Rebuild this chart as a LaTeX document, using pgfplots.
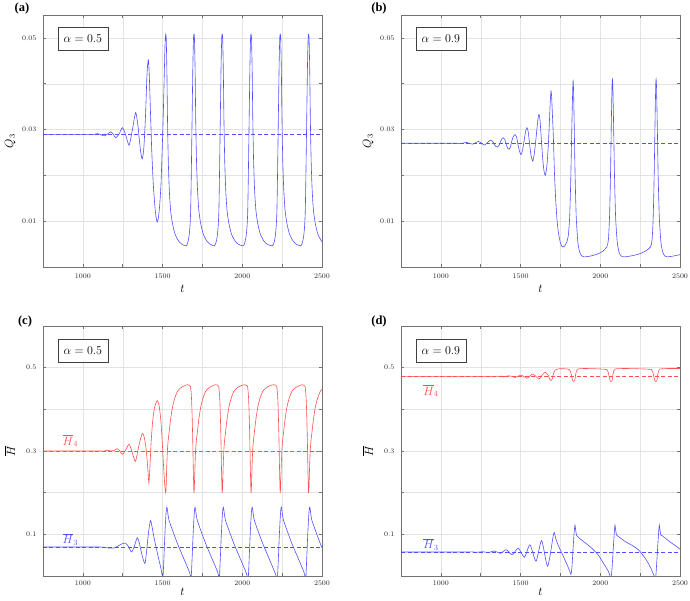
\documentclass[border=0pt]{standalone}
\usepackage[no-math]{fontspec}
\usepackage{pgfplots}
\pgfplotsset{compat=1.18}
\newfontfamily\lserif{Liberation Serif}
\definecolor{lblue}{RGB}{80,80,255}
\definecolor{lred}{RGB}{255,80,80}
\tikzset{
  abox/.style={draw=black!75, line width=0.6pt, fill=white, minimum width=50pt, minimum height=23pt, inner sep=0pt, font=\fontsize{12}{14}\selectfont},
  plab/.style={font=\lserif\bfseries\fontsize{12.5}{14}\selectfont},
}
\pgfplotsset{
  bdash/.style={draw=lblue, color=lblue, line width=0.6pt, dash pattern=on 4pt off 2.5pt, sharp plot},
  rdash/.style={draw=lred, color=lred, line width=0.6pt, dash pattern=on 4pt off 2.5pt, sharp plot},
  bline/.style={draw=lblue, color=lblue, line width=0.6pt, smooth, tension=0.4},
  rline/.style={draw=lred, color=lred, line width=0.6pt, smooth, tension=0.4},
  panel/.style={
    scale only axis, width=279pt, xmin=750, xmax=2500,
    scaled x ticks=false, scaled y ticks=false,
    xtick={1000,1500,2000,2500}, xticklabels={$1000$,$1500$,$2000$,$2500$},
    minor xtick={1250,1750,2250},
    grid=both,
    major grid style={draw=black!11, line width=0.4pt},
    minor grid style={draw=black!11, line width=0.4pt},
    tick align=inside, major tick length=3pt, minor tick length=3pt,
    axis line style={black!55, line width=0.5pt},
    tick style={black!55, line width=0.5pt},
    tick label style={font=\fontsize{7.5}{9}\selectfont, text=black!85},
    yticklabel style={xshift=-3pt},
    label style={font=\fontsize{12}{14}\selectfont},
    xlabel={$t$},
    ylabel style={at={(axis description cs:-0.118,0.5)}, anchor=center},
  },
  toppanel/.style={panel, height=252pt, ymin=0, ymax=0.055,
    ytick={0.01,0.03,0.05}, yticklabels={$0.01$,$0.03$,$0.05$},
    minor ytick={0.02,0.04},
    xticklabel style={yshift=-3pt},
    xlabel style={at={(axis description cs:0.5,-0.088)}, anchor=center},
    ylabel={$Q_3$}},
  botpanel/.style={panel, height=250pt, ymin=0, ymax=0.6,
    ytick={0.1,0.3,0.5}, yticklabels={$0.1$,$0.3$,$0.5$},
    minor ytick={0.2,0.4},
    xticklabel style={yshift=-1pt},
    xlabel style={at={(axis description cs:0.5,-0.062)}, anchor=center},
    ylabel={$\overline{H}$}},
}
\begin{document}
\begin{tikzpicture}
\path[use as bounding box] (0pt,0pt) rectangle (690pt,601pt);
\node[plab] at (22pt,592pt) {(a)};
\node[plab] at (379pt,592pt) {(b)};
\node[plab] at (25pt,279pt) {(c)};
\node[plab] at (379pt,279pt) {(d)};

% (a)
\begin{axis}[toppanel, at={(43pt,334pt)}, anchor=south west]
\addplot[bdash] coordinates {(750,0.0289) (2500,0.0289)};
\addplot[bline] coordinates {
(750,0.0289)(1000,0.0289)(1050,0.0289)(1070,0.02895)(1092,0.0291)(1112,0.0289)(1133,0.0286)(1154,0.0290)(1175,0.0295)(1190,0.0290)(1206,0.0282)(1227,0.0290)(1248,0.0304)(1269,0.0288)(1290,0.0266)(1310,0.0298)(1331,0.0337)(1345,0.0310)(1355,0.0275)(1364,0.0248)(1373,0.0236)(1383,0.0262)(1393,0.0330)(1401,0.0410)(1406,0.0440)(1411,0.0452)(1416,0.0425)(1424,0.0340)(1432,0.0255)(1441,0.0186)(1450,0.0140)(1458,0.0112)(1466,0.0098)(1474,0.0108)(1482,0.0135)(1490,0.0180)(1498,0.0260)(1505,0.0340)(1511,0.0425)(1516,0.0490)(1520,0.0508)
(1523,0.0498)(1527,0.0430)(1531,0.0320)(1536,0.0230)(1542,0.0170)(1550,0.0125)(1562,0.0095)(1578,0.0072)(1600,0.0057)(1620,0.0050)
(1647,0.0046)(1657,0.0052)(1665,0.0065)(1671,0.0085)(1676,0.0120)(1680,0.0200)(1685,0.0320)(1690,0.0440)(1694,0.0500)(1697,0.0508)
(1700,0.0498)(1704,0.0430)(1708,0.0320)(1713,0.0230)(1719,0.0170)(1727,0.0125)(1739,0.0095)(1755,0.0072)(1777,0.0057)(1797,0.0050)
(1824,0.0046)(1834,0.0052)(1842,0.0065)(1848,0.0085)(1853,0.0120)(1857,0.0200)(1862,0.0320)(1867,0.0440)(1871,0.0500)(1874,0.0508)
(1877,0.0498)(1881,0.0430)(1885,0.0320)(1890,0.0230)(1896,0.0170)(1904,0.0125)(1916,0.0095)(1932,0.0072)(1954,0.0057)(1974,0.0050)
(2005,0.0046)(2015,0.0052)(2023,0.0065)(2029,0.0085)(2034,0.0120)(2038,0.0200)(2043,0.0320)(2048,0.0440)(2052,0.0500)(2055,0.0508)
(2058,0.0498)(2062,0.0430)(2066,0.0320)(2071,0.0230)(2077,0.0170)(2085,0.0125)(2097,0.0095)(2113,0.0072)(2135,0.0057)(2155,0.0050)
(2188,0.0046)(2198,0.0052)(2206,0.0065)(2212,0.0085)(2217,0.0120)(2221,0.0200)(2226,0.0320)(2231,0.0440)(2235,0.0500)(2238,0.0508)
(2241,0.0498)(2245,0.0430)(2249,0.0320)(2254,0.0230)(2260,0.0170)(2268,0.0125)(2280,0.0095)(2296,0.0072)(2318,0.0057)(2338,0.0050)
(2366,0.0046)(2376,0.0052)(2384,0.0065)(2390,0.0085)(2395,0.0120)(2399,0.0200)(2404,0.0320)(2409,0.0440)(2413,0.0500)(2416,0.0508)
(2419,0.0498)(2423,0.0430)(2427,0.0320)(2432,0.0230)(2438,0.0170)(2446,0.0125)(2458,0.0095)(2474,0.0072)(2496,0.0057)(2500,0.0055)
};
\node[abox] at (axis cs:1000,0.0498) {$\alpha=0.5$};
\end{axis}

% (b)
\begin{axis}[toppanel, at={(401pt,334pt)}, anchor=south west]
\addplot[bdash] coordinates {(750,0.0270) (2500,0.0270)};
\addplot[bline] coordinates {
(750,0.0270)(1050,0.0270)(1084,0.02705)(1103,0.0270)(1122,0.0269)(1141,0.02705)(1160,0.0272)(1179,0.0270)(1198,0.0268)(1217,0.0271)(1236,0.0274)(1255,0.0270)(1274,0.0266)(1293,0.0272)(1312,0.0277)(1323,0.0275)(1334,0.0268)(1345,0.0263)(1356,0.0262)(1366,0.0266)(1376,0.0275)(1385,0.0281)(1392,0.0282)(1400,0.0279)(1410,0.0268)(1418,0.0260)(1427,0.0257)(1436,0.0262)(1446,0.0276)(1456,0.0286)(1465,0.0289)(1475,0.0283)(1485,0.0265)(1494,0.0252)(1503,0.0245)(1512,0.0255)(1522,0.0275)(1532,0.0297)(1540,0.0304)(1548,0.0295)(1556,0.0270)(1565,0.0245)(1576,0.0231)(1585,0.0245)(1595,0.0275)(1605,0.0310)(1611,0.0328)(1616,0.0333)(1622,0.0320)(1630,0.0280)(1638,0.0240)(1646,0.0212)(1655,0.0200)(1665,0.0220)(1673,0.0260)(1680,0.0310)(1686,0.0360)(1691,0.0384)(1695,0.0370)(1700,0.0330)(1706,0.0280)(1712,0.0210)(1720,0.0149)(1728,0.0105)(1737,0.0076)(1750,0.0052)(1762,0.0044)(1775,0.0045)(1790,0.0055)(1800,0.0070)(1808,0.0110)(1814,0.0180)(1820,0.0280)(1825,0.0360)(1829,0.0406)
(1832,0.0390)(1837,0.0300)(1842,0.0200)(1849,0.0110)(1859,0.0055)(1871,0.0032)(1884,0.0024)(1899,0.0022)(1940,0.0024)(1980,0.0028)(2015,0.0034)(2041,0.0044)
(2051,0.0060)(2058,0.0110)(2064,0.0200)(2070,0.0330)(2074,0.0400)(2076,0.0410)
(2079,0.0390)(2084,0.0300)(2089,0.0200)(2096,0.0110)(2106,0.0055)(2118,0.0032)(2131,0.0024)(2146,0.0022)(2190,0.0024)(2240,0.0028)(2285,0.0035)(2315,0.0044)
(2325,0.0060)(2332,0.0110)(2338,0.0200)(2344,0.0330)(2348,0.0400)(2350,0.0410)
(2353,0.0390)(2358,0.0300)(2363,0.0200)(2370,0.0110)(2380,0.0055)(2392,0.0032)(2405,0.0024)(2420,0.0022)(2460,0.0024)(2500,0.0027)
};
\node[abox] at (axis cs:1000,0.0498) {$\alpha=0.9$};
\end{axis}

% (c)
\begin{axis}[botpanel, at={(43pt,25pt)}, anchor=south west]
\addplot[rdash] coordinates {(750,0.300) (2500,0.300)};
\addplot[bdash] coordinates {(750,0.0695) (2500,0.0695)};
\addplot[rline] coordinates {
(750,0.300)(1100,0.300)(1130,0.2995)(1153,0.302)(1175,0.300)(1195,0.301)(1216,0.3056)(1233,0.299)(1249,0.292)(1270,0.304)(1291,0.316)(1311,0.295)(1330,0.275)(1351,0.312)(1372,0.342)(1383,0.336)(1393,0.316)(1401,0.288)(1408,0.255)(1414,0.223)(1420,0.255)(1428,0.320)(1438,0.372)(1450,0.405)(1466,0.421)(1478,0.410)(1488,0.378)(1496,0.335)(1503,0.285)(1510,0.240)(1515,0.212)(1520,0.200)
(1522,0.210)(1526,0.260)(1530,0.300)(1535,0.325)(1541,0.345)(1550,0.375)(1562,0.405)(1575,0.425)(1593,0.443)(1615,0.452)(1645,0.458)
(1657,0.459)(1667,0.458)(1675,0.455)(1681,0.430)(1685,0.390)(1689,0.330)(1693,0.250)(1696,0.205)(1697,0.200)
(1699,0.210)(1703,0.260)(1707,0.300)(1712,0.325)(1718,0.345)(1727,0.375)(1739,0.405)(1752,0.425)(1770,0.443)(1792,0.452)(1822,0.458)
(1834,0.459)(1844,0.458)(1852,0.455)(1858,0.430)(1862,0.390)(1866,0.330)(1870,0.250)(1873,0.205)(1874,0.200)
(1876,0.210)(1880,0.260)(1884,0.300)(1889,0.325)(1895,0.345)(1904,0.375)(1916,0.405)(1929,0.425)(1947,0.443)(1969,0.452)(1999,0.458)
(2015,0.459)(2025,0.458)(2033,0.455)(2039,0.430)(2043,0.390)(2047,0.330)(2051,0.250)(2054,0.205)(2055,0.200)
(2057,0.210)(2061,0.260)(2065,0.300)(2070,0.325)(2076,0.345)(2085,0.375)(2097,0.405)(2110,0.425)(2128,0.443)(2150,0.452)(2180,0.458)
(2198,0.459)(2208,0.458)(2216,0.455)(2222,0.430)(2226,0.390)(2230,0.330)(2234,0.250)(2237,0.205)(2238,0.200)
(2240,0.210)(2244,0.260)(2248,0.300)(2253,0.325)(2259,0.345)(2268,0.375)(2280,0.405)(2293,0.425)(2311,0.443)(2333,0.452)(2363,0.458)
(2376,0.459)(2386,0.458)(2394,0.455)(2400,0.430)(2404,0.390)(2408,0.330)(2412,0.250)(2415,0.205)(2416,0.200)
(2418,0.210)(2422,0.260)(2426,0.300)(2431,0.325)(2437,0.345)(2446,0.375)(2458,0.405)(2471,0.425)(2489,0.443)(2500,0.448)
};
\addplot[bline] coordinates {
(750,0.0695)(1100,0.0695)(1130,0.0690)(1153,0.0675)(1175,0.0668)(1195,0.0672)(1220,0.0720)(1245,0.0770)(1268,0.0790)(1287,0.0700)(1305,0.0575)(1322,0.0700)(1341,0.0920)(1355,0.0780)(1370,0.0520)(1389,0.0300)(1400,0.0600)(1412,0.1050)(1424,0.1330)(1432,0.1220)(1445,0.0950)(1460,0.0680)(1475,0.0420)(1490,0.0180)(1502,-0.0040)
(1508,0.040)(1514,0.095)(1520,0.140)(1524,0.160)(1527,0.165)(1530,0.160)(1535,0.145)(1541,0.133)(1562,0.110)(1593,0.078)(1624,0.050)(1655,0.022)(1670,0.008)(1679,-0.004)
(1685,0.040)(1691,0.095)(1697,0.140)(1701,0.160)(1704,0.165)(1707,0.160)(1712,0.145)(1718,0.133)(1739,0.110)(1770,0.078)(1801,0.050)(1832,0.022)(1847,0.008)(1856,-0.004)
(1862,0.040)(1868,0.095)(1874,0.140)(1878,0.160)(1881,0.165)(1884,0.160)(1889,0.145)(1895,0.133)(1916,0.110)(1947,0.078)(1978,0.050)(2009,0.022)(2024,0.008)(2037,-0.004)
(2043,0.040)(2049,0.095)(2055,0.140)(2059,0.160)(2062,0.165)(2065,0.160)(2070,0.145)(2076,0.133)(2097,0.110)(2128,0.078)(2159,0.050)(2190,0.022)(2205,0.008)(2220,-0.004)
(2226,0.040)(2232,0.095)(2238,0.140)(2242,0.160)(2245,0.165)(2248,0.160)(2253,0.145)(2259,0.133)(2280,0.110)(2311,0.078)(2342,0.050)(2373,0.022)(2388,0.008)(2398,-0.004)
(2404,0.040)(2410,0.095)(2416,0.140)(2420,0.160)(2423,0.165)(2426,0.160)(2431,0.145)(2437,0.133)(2458,0.110)(2489,0.078)(2500,0.068)
};
\node[abox] at (axis cs:1000,0.54) {$\alpha=0.5$};
\node[text=lred, font=\fontsize{12}{14}\selectfont] at (axis cs:922,0.324) {$\overline{H}_4$};
\node[text=lblue, font=\fontsize{12}{14}\selectfont] at (axis cs:922,0.088) {$\overline{H}_3$};
\end{axis}

% (d)
\begin{axis}[botpanel, at={(401pt,25pt)}, anchor=south west]
\addplot[rdash] coordinates {(750,0.479) (2500,0.479)};
\addplot[bdash] coordinates {(750,0.0575) (2500,0.0575)};
\addplot[rline] coordinates {
(750,0.479)(1350,0.479)(1372,0.4795)(1392,0.4780)(1410,0.4795)(1427,0.4805)(1446,0.4790)(1465,0.4765)(1484,0.4795)(1503,0.4820)(1521,0.4785)(1540,0.4745)(1558,0.4800)(1576,0.4845)(1596,0.4790)(1616,0.4725)(1636,0.4830)(1655,0.4890)(1673,0.4820)(1683,0.4720)(1691,0.4690)(1698,0.4720)(1706,0.4850)(1716,0.4940)(1735,0.4970)(1760,0.4975)(1790,0.4970)(1805,0.4955)(1814,0.4900)(1821,0.4780)(1827,0.4690)(1834,0.4670)(1840,0.4700)(1846,0.4850)(1852,0.4930)(1862,0.4970)(1900,0.4980)(1960,0.4975)(2015,0.4965)(2040,0.4955)(2049,0.4900)(2056,0.4780)(2062,0.4690)(2068,0.4665)(2074,0.4690)(2080,0.4850)(2086,0.4935)(2096,0.4970)(2150,0.4980)(2220,0.4975)(2290,0.4965)(2320,0.4955)(2329,0.4900)(2336,0.4780)(2342,0.4690)(2349,0.4665)(2355,0.4690)(2361,0.4850)(2367,0.4935)(2377,0.4970)(2430,0.4980)(2500,0.4980)
};
\addplot[bline] coordinates {
(750,0.0575)(1150,0.0575)(1190,0.0580)(1225,0.0570)(1262,0.0582)(1298,0.0565)(1336,0.0600)(1373,0.0545)(1410,0.0630)(1448,0.0510)(1485,0.0670)(1524,0.0450)(1559,0.0749)(1597,0.0355)(1632,0.0850)(1670,0.0235)(1708,0.1027)(1720,0.0900)(1735,0.0750)(1750,0.0620)(1765,0.0500)(1780,0.0370)(1795,0.0240)(1808,0.0120)(1816,0.0040)(1822,0.0200)(1830,0.0700)(1836,0.1050)(1841,0.1220)(1845,0.1120)(1851,0.0980)(1861,0.0930)(1904,0.0800)(1946,0.0670)(1988,0.0500)(2019,0.0310)(2051,0.0110)(2067,-0.0040)(2074,0.0200)(2082,0.0700)(2088,0.1050)(2092,0.1220)(2096,0.1120)(2102,0.0980)(2113,0.0950)(2155,0.0830)(2197,0.0740)(2239,0.0630)(2281,0.0430)(2312,0.0230)(2345,-0.0040)(2352,0.0200)(2360,0.0700)(2366,0.1050)(2370,0.1220)(2374,0.1120)(2380,0.0980)(2391,0.0960)(2433,0.0830)(2470,0.0730)(2500,0.0646)
};
\node[abox] at (axis cs:1000,0.54) {$\alpha=0.9$};
\node[text=lred, font=\fontsize{12}{14}\selectfont] at (axis cs:938,0.444) {$\overline{H}_4$};
\node[text=lblue, font=\fontsize{12}{14}\selectfont] at (axis cs:938,0.076) {$\overline{H}_3$};
\end{axis}
\end{tikzpicture}
\end{document}
